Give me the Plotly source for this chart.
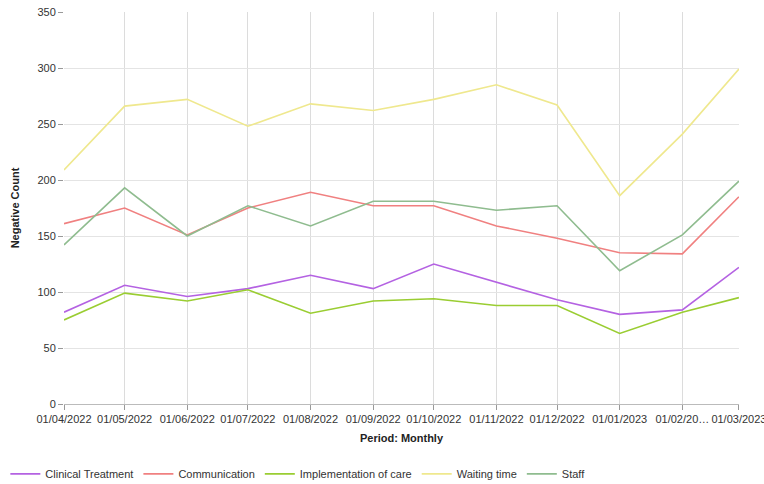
import plotly.graph_objects as go

# Monthly periods (day/month/year)
periods = ["2022-04-01", "2022-05-01", "2022-06-01", "2022-07-01", "2022-08-01", "2022-09-01",
           "2022-10-01", "2022-11-01", "2022-12-01", "2023-01-01", "2023-02-01", "2023-03-01"]
tick_labels = ["01/04/2022", "01/05/2022", "01/06/2022", "01/07/2022", "01/08/2022", "01/09/2022",
               "01/10/2022", "01/11/2022", "01/12/2022", "01/01/2023", "01/02/20…", "01/03/2023"]

clinical_treatment = [82, 106, 96, 103, 115, 103, 125, 109, 93, 80, 84, 122]
communication = [161, 175, 151, 175, 189, 177, 177, 159, 148, 135, 134, 185]
implementation_of_care = [75, 99, 92, 102, 81, 92, 94, 88, 88, 63, 82, 95]
waiting_time = [209, 266, 272, 248, 268, 262, 272, 285, 267, 186, 241, 299]
staff = [142, 193, 150, 177, 159, 181, 181, 173, 177, 119, 151, 199]

series = [
    ("Clinical Treatment", clinical_treatment, "#b462e2"),
    ("Communication", communication, "#f08080"),
    ("Implementation of care", implementation_of_care, "#9acd32"),
    ("Waiting time", waiting_time, "#efe88e"),
    ("Staff", staff, "#8fbc8f"),
]

fig = go.Figure()
for name, values, color in series:
    fig.add_trace(go.Scatter(
        x=periods, y=values, name=name, mode="lines",
        line=dict(color=color, width=1.6),
    ))

font = "Liberation Sans, Arial, sans-serif"
fig.update_layout(
    width=764, height=484,
    margin=dict(l=64, r=25, t=12, b=80, autoexpand=False),
    plot_bgcolor="white", paper_bgcolor="white",
    font=dict(family=font, size=11, color="#333333"),
    xaxis=dict(
        type="date",
        range=[periods[0], "2023-03-01 01:00"],
        tickmode="array", tickvals=periods, ticktext=tick_labels,
        tickangle=0, automargin=False, ticklabeloverflow="allow",
        showgrid=True, gridcolor="#dcdcdc", gridwidth=1,
        ticks="outside", ticklen=5, tickcolor="#999999",
        showline=True, linecolor="#bbbbbb", linewidth=1,
        zeroline=False,
        title=dict(text="<b>Period: Monthly</b>", font=dict(size=11, color="#222222"), standoff=10),
        tickfont=dict(size=11, color="#333333"),
    ),
    yaxis=dict(
        range=[0, 350], dtick=50, automargin=False,
        showgrid=True, gridcolor="#e4e4e4", gridwidth=1,
        ticks="outside", ticklen=5, tickcolor="#999999",
        showline=False, zeroline=False,
        title=dict(text="<b>Negative Count</b>", font=dict(size=11, color="#222222"), standoff=15),
        tickfont=dict(size=11, color="#333333"),
    ),
    legend=dict(
        orientation="h", xref="container", yref="container",
        x=0.007, xanchor="left", y=0.021, yanchor="middle",
        font=dict(size=11, color="#333333"),
        itemwidth=30,
    ),
    showlegend=True,
)

fig.write_html("out.html")
